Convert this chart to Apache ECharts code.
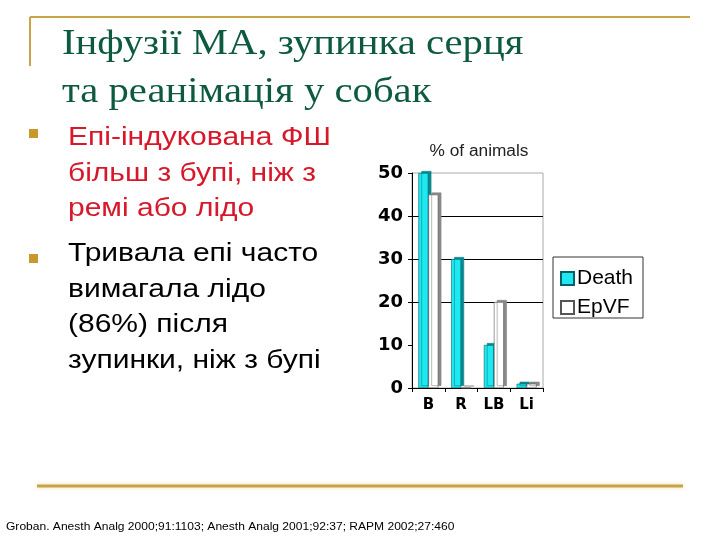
<!DOCTYPE html>
<html lang="uk">
  <head>
    <meta charset="UTF-8" />
    <title>Інфузії МА</title>
    <style>
      html, body { margin: 0; padding: 0; background: #fff; }
      #chart { width: 720px; height: 540px; }
    </style>
  </head>
  <body>
    <div id="chart"></div>
    <script src="https://cdn.jsdelivr.net/npm/echarts@6/dist/echarts.min.js"></script>
    <script>
      // data
      var categories = ['B', 'R', 'LB', 'Li'];
      var deathValues = [50, 30, 10, 1];
      var epvfValues = [45, 0, 20, 1];
      var seriesNames = ['Death', 'EpVF'];

      var titleLines = ['Інфузії МА, зупинка серця', 'та реанімація у собак'];
      var redLines = ['Епі-індукована ФШ', 'більш з бупі, ніж з', 'ремі або лідо'];
      var blackLines = ['Тривала епі часто', 'вимагала лідо', '(86%) після', 'зупинки, ніж з бупі'];
      var footnote = 'Groban. Anesth Analg 2000;91:1103; Anesth Analg 2001;92:37; RAPM 2002;27:460';

      var gold = '#c9a347';
      var sans = '"Liberation Sans", Arial, sans-serif';
      var serif = '"Liberation Serif", "Times New Roman", serif';
      var wide = '"DejaVu Sans", Verdana, sans-serif';

      var myChart = echarts.init(document.getElementById('chart'));

      // the slide picture is stretched a bit sideways, so texts get scaleX
      function txt(x, y, text, font, fill, sx, align) {
        return {
          type: 'text', x: x, y: y, scaleX: sx || 1,
          style: { x: 0, y: 0, text: text, font: font, fill: fill, textAlign: align || 'left', textVerticalAlign: 'top' }
        };
      }

      var graphics = [
        { type: 'line', shape: { x1: 30, y1: 17, x2: 690, y2: 17 }, style: { stroke: gold, lineWidth: 2 } },
        { type: 'line', shape: { x1: 30, y1: 17, x2: 30, y2: 66 }, style: { stroke: gold, lineWidth: 2 } },
        { type: 'line', shape: { x1: 37, y1: 486, x2: 683, y2: 486 }, style: { stroke: gold, lineWidth: 3, shadowBlur: 4, shadowColor: 'rgba(230,200,120,0.6)' } }
      ];
      titleLines.forEach(function (t, i) {
        graphics.push(txt(62, 27 + i * 48, t, '36px ' + serif, '#0d5a3e', 1.13));
      });
      redLines.forEach(function (t, i) {
        graphics.push(txt(68, 126 + i * 35.5, t, '25px ' + sans, '#d7182a', 1.2));
      });
      blackLines.forEach(function (t, i) {
        graphics.push(txt(68, 242 + i * 35.4, t, '25px ' + sans, '#000', 1.2));
      });
      [129, 254].forEach(function (y) {
        graphics.push({ type: 'rect', shape: { x: 29, y: y, width: 9, height: 9 }, style: { fill: '#c9982c' } });
      });
      graphics.push(txt(6, 521, footnote, '11px ' + sans, '#000', 1.095));
      graphics.push(txt(479, 144, '% of animals', '16px ' + sans, '#222', 1.08, 'center'));
      graphics.push({
        type: 'rect', shape: { x: 553, y: 257, width: 90, height: 61 },
        style: { fill: '#fff', stroke: '#333', lineWidth: 1 }, z: 0
      });

      var option = {
        animation: false,
        graphic: graphics,
        legend: {
          left: 555, top: 263,
          orient: 'vertical',
          itemWidth: 13, itemHeight: 13, itemGap: 8,
          icon: 'rect',
          data: seriesNames,
          textStyle: { fontFamily: sans, fontSize: 21, color: '#000', padding: [0, 0, 0, -2] }
        },
        grid: {
          left: 412, top: 173, width: 131, height: 215,
          show: true, borderColor: '#aaa', borderWidth: 1
        },
        xAxis: {
          type: 'category',
          data: categories,
          axisLine: { lineStyle: { color: '#000', width: 1 } },
          axisTick: { show: true, length: 4, lineStyle: { color: '#000' } },
          axisLabel: { fontFamily: wide, fontSize: 15, fontWeight: 'bold', color: '#000', margin: 10 }
        },
        yAxis: {
          type: 'value',
          min: 0, max: 50, interval: 10,
          axisLine: { show: true, lineStyle: { color: '#000', width: 1 } },
          axisTick: { show: true, length: 4, lineStyle: { color: '#000' } },
          axisLabel: { fontFamily: wide, fontSize: 18, fontWeight: 'bold', color: '#000', margin: 9 },
          splitLine: { show: true, lineStyle: { color: ['transparent', 'transparent', '#000', '#000', '#000', 'transparent'], width: 1 } }
        },
        series: [
          {
            name: seriesNames[0], type: 'bar', data: deathValues,
            barWidth: 10, barGap: '0%',
            itemStyle: { color: '#1ee8f0', borderColor: '#0a5f66', borderWidth: 0.6, shadowColor: '#0a8a90', shadowOffsetX: 3, shadowOffsetY: -2, shadowBlur: 0 }
          },
          {
            name: seriesNames[1], type: 'bar', data: epvfValues,
            barWidth: 10,
            itemStyle: { color: '#ffffff', borderColor: '#555', borderWidth: 0.6, shadowColor: '#8a8a8a', shadowOffsetX: 3, shadowOffsetY: -2, shadowBlur: 0 }
          }
        ]
      };
      myChart.setOption(option);
    </script>
  </body>
</html>
